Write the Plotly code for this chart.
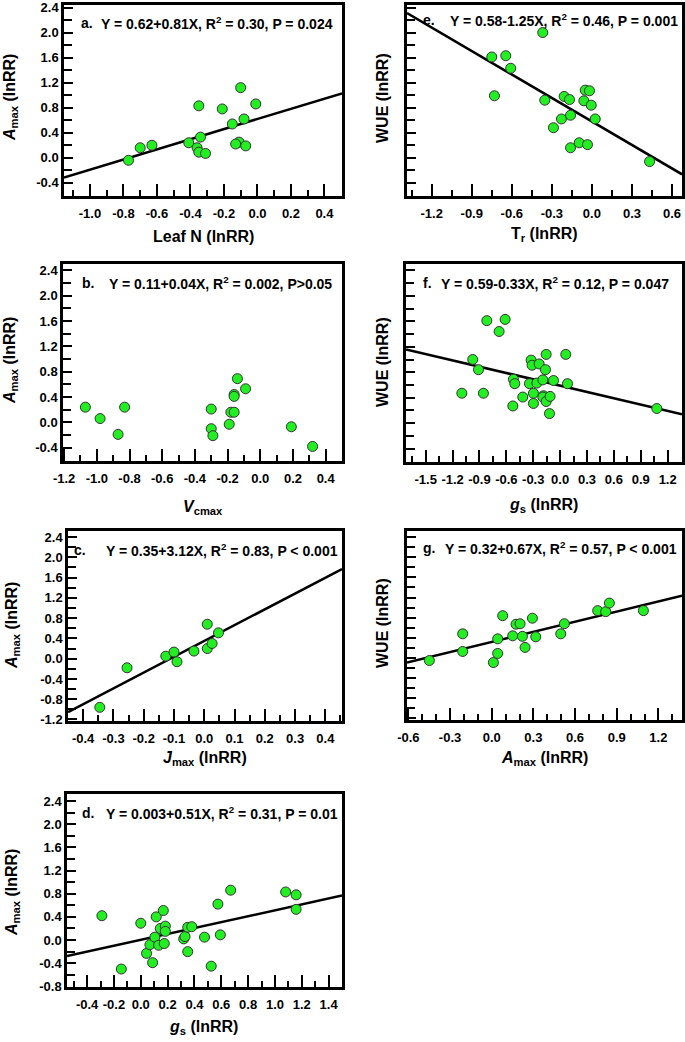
import plotly.graph_objects as go

# --- Canvas / styling ---
W, H = 685, 1042
GREEN = "#22EE22"
FONT = "Liberation Sans, Arial, sans-serif"

# --- Data (lnRR values) ---
# a. Leaf N vs Amax
leafn_x = [-0.77, -0.70, -0.63, -0.41, -0.35, -0.36, -0.35, -0.34, -0.31, -0.21,
           -0.15, -0.10, -0.11, -0.13, -0.08, -0.07, -0.01]
leafn_amax = [-0.04, 0.16, 0.20, 0.24, 0.83, 0.16, 0.09, 0.33, 0.07, 0.78,
              0.54, 1.12, 0.25, 0.22, 0.62, 0.19, 0.86]

# b. Vcmax vs Amax
vcmax_x = [-1.07, -0.98, -0.87, -0.83, -0.30, -0.30, -0.29, -0.19, -0.18, -0.16,
           -0.16, -0.16, -0.14, -0.09, 0.19, 0.32]
vcmax_amax = [0.24, 0.06, -0.19, 0.24, 0.21, -0.10, -0.21, -0.03, 0.16, 0.16,
              0.44, 0.41, 0.69, 0.53, -0.07, -0.38]

# c. Jmax vs Amax
jmax_x = [-0.345, -0.255, -0.127, -0.10, -0.09, -0.034, 0.01, 0.01, 0.026, 0.047]
jmax_amax = [-0.96, -0.18, 0.05, 0.13, -0.06, 0.15, 0.68, 0.20, 0.30, 0.51]

# d. gs vs Amax
gs_x = [-0.29, -0.145, 0.0, 0.043, 0.068, 0.088, 0.105, 0.115, 0.133, 0.145,
        0.168, 0.175, 0.183, 0.183, 0.32, 0.33, 0.35, 0.35, 0.38, 0.475,
        0.525, 0.575, 0.593, 0.67, 1.08, 1.158, 1.158]
gs_amax = [0.42, -0.50, 0.29, -0.23, -0.08, -0.39, 0.05, 0.40, -0.09, 0.20,
           0.51, -0.06, 0.24, 0.15, 0.02, 0.06, -0.20, 0.22, 0.23, 0.05,
           -0.45, 0.62, 0.09, 0.86, 0.83, 0.78, 0.53]

# e. Tr vs WUE
tr_x = [-0.75, -0.73, -0.645, -0.608, -0.368, -0.353, -0.288, -0.228, -0.208, -0.168,
        -0.16, -0.16, -0.095, -0.05, -0.018, -0.06, -0.005, -0.033, 0.025, 0.432]
tr_wue = [1.61, 0.99, 1.63, 1.43, 2.00, 0.92, 0.48, 0.62, 0.98, 0.93,
          0.68, 0.16, 0.24, 1.08, 1.07, 0.91, 0.84, 0.21, 0.62, -0.06]

# f. gs vs WUE
gsw_x = [-1.097, -0.975, -0.911, -0.856, -0.818, -0.681, -0.614, -0.528, -0.521, -0.506,
         -0.417, -0.342, -0.324, -0.313, -0.298, -0.298, -0.26, -0.234, -0.193, -0.186,
         -0.193, -0.164, -0.156, -0.156, -0.112, -0.119, -0.074, 0.063, 0.082, 1.079]
gsw_wue = [0.47, 1.00, 0.84, 0.47, 1.61, 1.44, 1.63, 0.27, 0.69, 0.62,
           0.41, 0.62, 0.99, 0.91, 0.47, 0.31, 0.63, 0.93, 0.68, 0.43,
           0.41, 0.84, 1.08, 0.34, 0.42, 0.15, 0.67, 1.08, 0.62, 0.23]

# g. Amax vs WUE
amax_x = [-0.449, -0.209, -0.209, 0.012, 0.043, 0.043, 0.079, 0.151, 0.175, 0.204,
          0.221, 0.24, 0.293, 0.317, 0.497, 0.523, 0.763, 0.821, 0.847, 1.092]
amax_wue = [-0.05, 0.13, 0.48, -0.09, 0.09, 0.38, 0.84, 0.44, 0.67, 0.68,
            0.43, 0.21, 0.79, 0.42, 0.48, 0.68, 0.94, 0.92, 1.09, 0.94]

# --- Regression fits (intercept, slope) and stats text ---
fit_a = (0.62, 0.81)
fit_c = (0.35, 3.12)
fit_d = (0.003, 0.51)
fit_e = (0.58, -1.25)
fit_f = (0.59, -0.33)
fit_g = (0.32, 0.67)

eq_a = "Y = 0.62+0.81X, R<sup>2</sup> = 0.30, P = 0.024"
eq_b = "Y = 0.11+0.04X, R<sup>2</sup> = 0.002, P>0.05"
eq_c = "Y = 0.35+3.12X, R<sup>2</sup> = 0.83, P < 0.001"
eq_d = "Y = 0.003+0.51X, R<sup>2</sup> = 0.31, P = 0.01"
eq_e = "Y = 0.58-1.25X, R<sup>2</sup> = 0.46, P = 0.001"
eq_f = "Y = 0.59-0.33X, R<sup>2</sup> = 0.12, P = 0.047"
eq_g = "Y = 0.32+0.67X, R<sup>2</sup> = 0.57, P < 0.001"

# --- Tick values ---
ticks_x_a = [-1.0, -0.8, -0.6, -0.4, -0.2, 0.0, 0.2, 0.4]
ticks_x_b = [-1.2, -1.0, -0.8, -0.6, -0.4, -0.2, 0.0, 0.2, 0.4]
ticks_x_c = [-0.4, -0.3, -0.2, -0.1, 0.0, 0.1, 0.2, 0.3, 0.4]
ticks_x_d = [-0.4, -0.2, 0.0, 0.2, 0.4, 0.6, 0.8, 1.0, 1.2, 1.4]
ticks_x_e = [-1.2, -0.9, -0.6, -0.3, 0.0, 0.3, 0.6]
ticks_x_f = [-1.5, -1.2, -0.9, -0.6, -0.3, 0.0, 0.3, 0.6, 0.9, 1.2]
ticks_x_g = [-0.6, -0.3, 0.0, 0.3, 0.6, 0.9, 1.2]
ticks_y_ab = [-0.4, 0.0, 0.4, 0.8, 1.2, 1.6, 2.0, 2.4]
ticks_y_c = [-1.2, -0.8, -0.4, 0.0, 0.4, 0.8, 1.2, 1.6, 2.0, 2.4]
ticks_y_d = [-0.8, -0.4, 0.0, 0.4, 0.8, 1.2, 1.6, 2.0, 2.4]

fig = go.Figure()
annotations = []


def px_x(v):
    return v / W


def px_y(v):
    return 1 - v / H


def add_panel(n, x, y, fit, box, xr, yr, xt, xminor, yt, yminor, ylabels,
              letter, eq, letter_pos, eq_pos):
    xa, ya = f"x{n}", f"y{n}"
    left, right, top, bottom = box

    # regression line across the whole x range
    if fit is not None:
        b0, b1 = fit
        fig.add_trace(go.Scatter(
            x=[xr[0], xr[1]], y=[b0 + b1 * xr[0], b0 + b1 * xr[1]],
            mode="lines", line=dict(color="black", width=2.5),
            xaxis=xa, yaxis=ya, showlegend=False, hoverinfo="skip"))

    fig.add_trace(go.Scatter(
        x=x, y=y, mode="markers",
        marker=dict(size=10, color=GREEN, line=dict(color="#333333", width=1)),
        xaxis=xa, yaxis=ya, showlegend=False))

    common = dict(showline=True, linewidth=2.5, linecolor="black", mirror=True,
                  showgrid=False, zeroline=False, ticks="inside", tickwidth=2,
                  tickcolor="black", tickmode="array", automargin=False,
                  ticklabeloverflow="allow",
                  tickfont=dict(family=FONT, size=13, color="black", weight="bold"))
    fig.layout[f"xaxis{n}"] = dict(
        common, domain=[px_x(left), px_x(right)], range=xr, anchor=ya,
        tickvals=xt, ticktext=[f"{v:.1f}" for v in xt], ticklen=12,
        ticklabelstandoff=4,
        minor=dict(dtick=xminor, tick0=0, ticks="inside", ticklen=6,
                   tickwidth=2, tickcolor="black"))
    fig.layout[f"yaxis{n}"] = dict(
        common, domain=[px_y(bottom), px_y(top)], range=yr, anchor=xa,
        tickvals=yt, ticktext=[f"{v:.1f}" for v in yt], ticklen=9,
        showticklabels=ylabels,
        minor=dict(dtick=yminor, tick0=0, ticks="inside", ticklen=8,
                   tickwidth=2, tickcolor="black"))

    annotations.append(dict(
        text=f"<b>{letter}</b>", x=px_x(letter_pos[0]), y=px_y(letter_pos[1]),
        xref="paper", yref="paper", xanchor="left", yanchor="middle",
        showarrow=False, font=dict(family=FONT, size=14, color="black")))
    annotations.append(dict(
        text=f"<b>{eq}</b>", x=px_x(eq_pos[0]), y=px_y(eq_pos[1]),
        xref="paper", yref="paper", xanchor="center", yanchor="middle",
        showarrow=False, font=dict(family=FONT, size=14, color="black")))


# --- Panels (box = left, right, top, bottom in px) ---
add_panel(1, leafn_x, leafn_amax, fit_a, (64, 342, 5, 196), [-1.155, 0.505], [-0.61, 2.44],
          ticks_x_a, 0.1, ticks_y_ab, 0.2, True, "a.", eq_a, (79, 23), (217, 23))
add_panel(2, vcmax_x, vcmax_amax, None, (63, 342, 264, 461), [-1.207, 0.5], [-0.61, 2.5],
          ticks_x_b, 0.1, ticks_y_ab, 0.2, True, "b.", eq_b, (80, 283), (220, 283))
add_panel(3, jmax_x, jmax_amax, fit_c, (68, 342, 531, 721), [-0.45, 0.455], [-1.23, 2.52],
          ticks_x_c, 0.05, ticks_y_c, 0.2, True, "c.", eq_c, (72, 550), (222, 550))
add_panel(4, gs_x, gs_amax, fit_d, (67, 342, 794, 987), [-0.55, 1.5], [-0.81, 2.52],
          ticks_x_d, 0.1, ticks_y_d, 0.2, True, "d.", eq_d, (80, 813), (222, 813))
add_panel(5, tr_x, tr_wue, fit_e, (407, 682, 5, 196), [-1.385, 0.675], [-0.61, 2.44],
          ticks_x_e, 0.15, ticks_y_ab, 0.2, False, "e.", eq_e, (421, 20), (564, 20))
add_panel(6, gsw_x, gsw_wue, fit_f, (406, 682, 264, 462), [-1.72, 1.36], [-0.61, 2.5],
          ticks_x_f, 0.15, ticks_y_ab, 0.2, False, "f.", eq_f, (421, 283), (555, 283))
add_panel(7, amax_x, amax_wue, fit_g, (407, 682, 531, 720), [-0.61, 1.37], [-1.23, 2.52],
          ticks_x_g, 0.1, ticks_y_c, 0.2, False, "g.", eq_g, (421, 548), (561, 548))

# --- Axis titles (placed in px) ---
amax_title = "<i>A</i><sub>max</sub> (lnRR)"
wue_title = "WUE (lnRR)"
gs_title = "<i>g</i><sub>s</sub> (lnRR)"
x_titles = [
    ("Leaf N (lnRR)", 203, 236),
    ("<i>V</i><sub>cmax</sub>", 203, 507),
    ("<i>J</i><sub>max</sub> (lnRR)", 205, 758),
    (gs_title, 203, 1027),
    ("T<sub>r</sub> (lnRR)", 544, 234),
    (gs_title, 543, 506),
    (amax_title, 544, 758),
]
y_titles = [
    (amax_title, 11, 98),
    (amax_title, 11, 361),
    (amax_title, 12, 626),
    (amax_title, 12, 893),
    (wue_title, 383, 98),
    (wue_title, 382, 362),
    (wue_title, 382, 623),
]
for txt, x, y in x_titles:
    annotations.append(dict(
        text=f"<b>{txt}</b>", x=px_x(x), y=px_y(y), xref="paper", yref="paper",
        xanchor="center", yanchor="middle", showarrow=False,
        font=dict(family=FONT, size=16, color="black")))
for txt, x, y in y_titles:
    annotations.append(dict(
        text=f"<b>{txt}</b>", x=px_x(x), y=px_y(y), xref="paper", yref="paper",
        xanchor="center", yanchor="middle", showarrow=False, textangle=-90,
        font=dict(family=FONT, size=16, color="black")))

fig.update_layout(
    width=W, height=H, autosize=False,
    margin=dict(l=0, r=0, t=0, b=0, autoexpand=False),
    plot_bgcolor="white", paper_bgcolor="white",
    font=dict(family=FONT, color="black"),
    annotations=annotations,
)

# no modebar, and drop the browser's default 8px body margin
fig.write_html("out.html", config={"displayModeBar": False},
               post_script="document.body.style.margin = '0';")
